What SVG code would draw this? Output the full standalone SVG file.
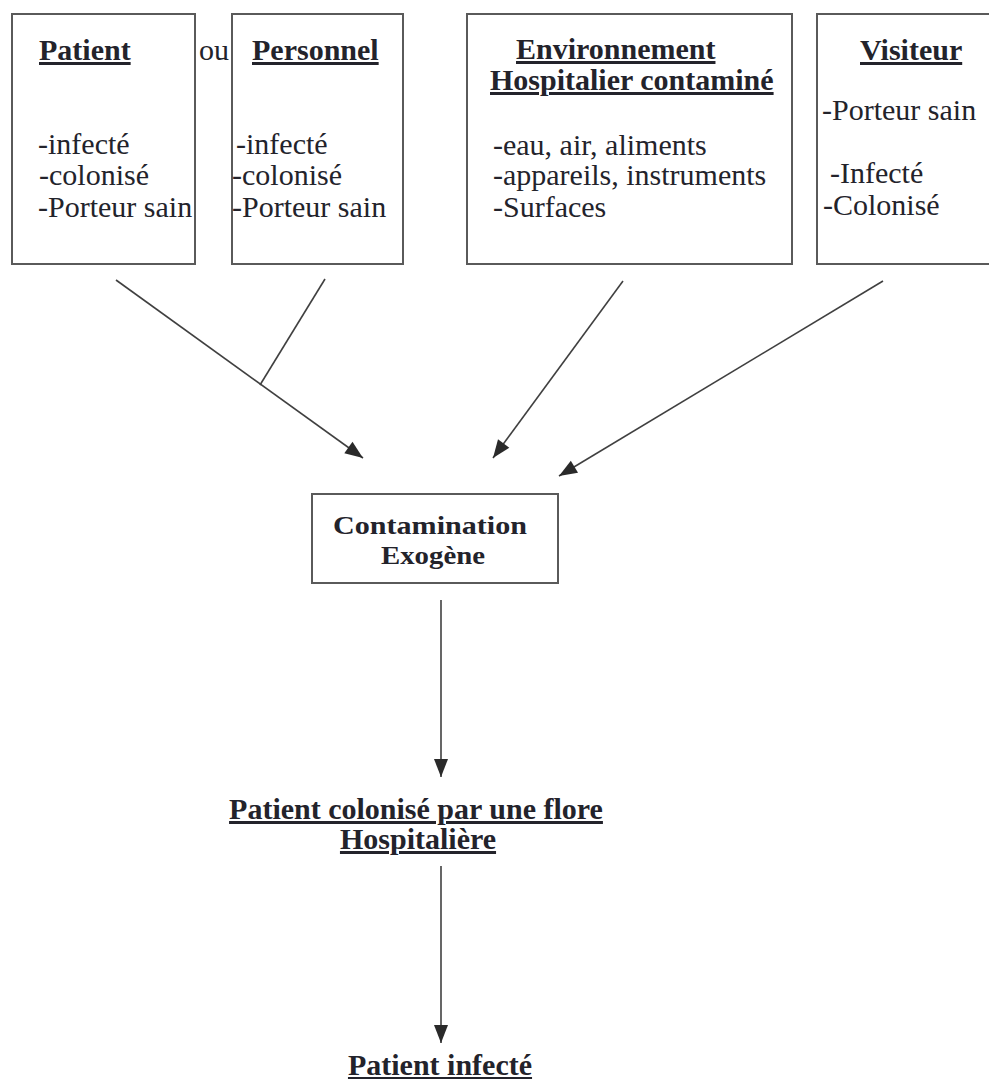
<svg xmlns="http://www.w3.org/2000/svg" width="989" height="1079" viewBox="0 0 989 1079">
<style>
text{font-family:"Liberation Serif","Times New Roman",serif;font-size:30px;fill:#23232b}
.b{font-weight:bold}
.u{text-decoration:underline}
.s{font-size:26px}
.box{fill:#fff;stroke:#5a5a5a;stroke-width:2}
.c{stroke:#404040;stroke-width:1.6;fill:none}
</style>
<defs>
<marker id="ah" viewBox="0 0 10 10" refX="10" refY="5" markerWidth="10" markerHeight="10" markerUnits="userSpaceOnUse" orient="auto" overflow="visible">
<path d="M-8,-2 L10,5 L-8,12 Z" fill="#2a2a2a"/>
</marker>
</defs>
<rect width="989" height="1079" fill="#fff"/>
<g id="patient">
<rect class="box" x="12" y="14" width="183" height="250"/>
<text class="b u" x="39" y="60">Patient</text>
<text x="38" y="154">-infecté</text>
<text x="39" y="185">-colonisé</text>
<text x="38" y="217">-Porteur sain</text>
</g>
<g id="ou">
<text x="199" y="60">ou</text>
</g>
<g id="personnel">
<rect class="box" x="232" y="14" width="171" height="250"/>
<text class="b u" x="252" y="60">Personnel</text>
<text x="236" y="154">-infecté</text>
<text x="232" y="185">-colonisé</text>
<text x="232" y="217">-Porteur sain</text>
</g>
<g id="environnement">
<rect class="box" x="467" y="14" width="325" height="250"/>
<text class="b u" x="516" y="59">Environnement</text>
<text class="b u" x="490" y="90">Hospitalier contaminé</text>
<text x="493" y="155">-eau, air, aliments</text>
<text x="493" y="185">-appareils, instruments</text>
<text x="493" y="217">-Surfaces</text>
</g>
<g id="visiteur">
<rect class="box" x="817" y="14" width="185" height="250"/>
<text class="b u" x="860" y="60">Visiteur</text>
<text x="822" y="120">-Porteur sain</text>
<text x="830" y="183">-Infecté</text>
<text x="823" y="215">-Colonisé</text>
</g>
<g id="contamination">
<rect class="box" x="312" y="494" width="246" height="89"/>
<text class="b s" x="333" y="534" textLength="194" lengthAdjust="spacingAndGlyphs">Contamination</text>
<text class="b s" x="381" y="564" textLength="104" lengthAdjust="spacingAndGlyphs">Exogène</text>
</g>
<g id="colonise">
<text class="b u" x="416" y="819" text-anchor="middle">Patient colonisé par une flore</text>
<text class="b u" x="418" y="849" text-anchor="middle">Hospitalière</text>
</g>
<g id="infecte">
<text class="b u" x="440" y="1075" text-anchor="middle">Patient infecté</text>
</g>
<g id="connectors">
<line class="c" x1="116" y1="280" x2="363" y2="458" marker-end="url(#ah)"/>
<line class="c" x1="325" y1="279" x2="260" y2="385"/>
<line class="c" x1="623" y1="281" x2="493" y2="458" marker-end="url(#ah)"/>
<line class="c" x1="883" y1="281" x2="559" y2="476" marker-end="url(#ah)"/>
<line class="c" x1="441" y1="600" x2="441" y2="777" marker-end="url(#ah)"/>
<line class="c" x1="441" y1="866" x2="441" y2="1043" marker-end="url(#ah)"/>
</g>
</svg>
